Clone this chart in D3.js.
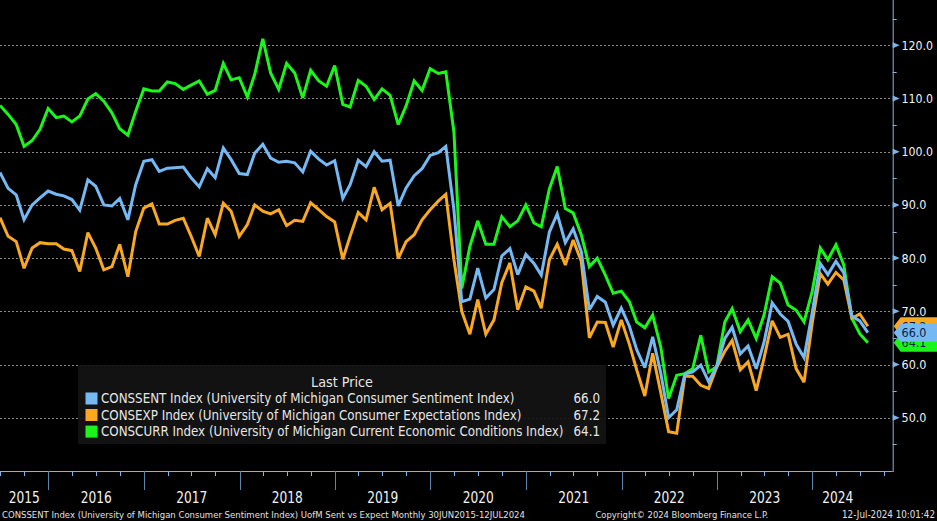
<!DOCTYPE html>
<html>
<head>
<meta charset="utf-8">
<script src="https://cdn.jsdelivr.net/npm/d3@7"></script>
<style>
  html, body { margin: 0; padding: 0; background: #000; }
  svg { display: block; }
  text { font-family: "DejaVu Sans Condensed", "DejaVu Sans", sans-serif; }
</style>
</head>
<body>
<div id="chart"></div>
<script>
// Monthly values, Jun 2015 .. Jul 2024 (Bloomberg dates them at month end)
const firstMonth = new Date(2015, 5, 30);

const consSent = [
  96.1, 93.1, 91.9, 87.2, 90.0, 91.3, 92.6,
  92.0, 91.7, 91.0, 89.0, 94.7, 93.5, 90.0, 89.8, 91.2, 87.2, 93.8, 98.2,
  98.5, 96.3, 96.9, 97.0, 97.1, 95.1, 93.4, 96.8, 95.1, 100.7, 98.5, 95.9,
  95.7, 99.7, 101.4, 98.8, 98.0, 98.2, 97.9, 96.2, 100.1, 98.6, 97.5, 98.3,
  91.2, 93.8, 98.4, 97.2, 100.0, 98.2, 98.4, 89.8, 93.2, 95.5, 96.8, 99.3,
  99.8, 101.0, 89.1, 71.8, 72.3, 78.1, 72.5, 74.1, 80.4, 81.8, 76.9, 80.7,
  79.0, 76.8, 84.9, 88.3, 82.9, 85.5, 81.2, 70.3, 72.8, 71.7, 67.4, 70.6,
  67.2, 62.8, 59.4, 65.2, 58.4, 50.0, 51.5, 58.2, 58.6, 59.9, 56.8, 59.7,
  64.9, 67.0, 62.0, 63.5, 59.2, 64.2, 71.6, 69.5, 68.1, 63.8, 61.3, 69.7,
  79.0, 76.9, 79.4, 77.2, 69.1, 68.2, 66.0
];

const consExp = [
  87.6, 84.1, 83.1, 78.1, 81.9, 82.9, 82.7,
  82.7, 81.7, 81.4, 77.5, 84.8, 81.9, 77.8, 78.4, 82.6, 76.5, 85.0, 89.4,
  90.2, 86.4, 86.4, 87.1, 87.5, 84.1, 80.3, 87.5, 84.4, 90.3, 88.8, 84.1,
  86.3, 90.0, 88.8, 88.3, 89.1, 86.1, 87.1, 86.9, 90.4, 89.1, 87.8, 86.8,
  79.8, 84.1, 88.6, 87.2, 93.3, 89.1, 90.3, 79.9, 83.1, 84.4, 87.2, 89.1,
  90.7, 92.0, 79.7, 70.0, 65.7, 72.2, 65.7, 68.4, 75.4, 79.1, 70.3, 74.6,
  73.8, 70.6, 79.7, 82.6, 78.7, 83.4, 79.4, 65.0, 68.0, 67.9, 63.3, 68.4,
  63.8, 59.0, 54.1, 62.1, 54.7, 47.4, 47.1, 57.8, 57.8, 56.1, 55.5, 59.5,
  62.5, 64.5, 59.0, 60.5, 55.1, 61.2, 68.2, 65.1, 65.7, 59.2, 56.7, 67.7,
  77.1, 75.1, 77.3, 75.9, 68.7, 69.5, 67.2
];

const consCurr = [
  108.7, 107.0, 105.1, 101.0, 102.1, 104.2, 108.1,
  106.4, 106.7, 105.6, 106.7, 109.9, 110.9, 109.5, 107.3, 104.3, 103.1, 107.6, 111.8,
  111.4, 111.4, 113.1, 112.8, 111.7, 112.5, 113.3, 110.8, 111.5, 116.6, 113.5, 113.9,
  110.3, 114.5, 121.2, 114.8, 111.7, 116.6, 114.8, 110.1, 115.3, 113.3, 112.3, 116.2,
  108.9, 108.4, 113.4, 112.3, 109.8, 111.8, 110.6, 105.1, 108.6, 113.3, 111.5, 115.6,
  114.7, 115.0, 103.7, 74.3, 82.2, 87.0, 82.6, 82.6, 87.8, 85.9, 87.0, 90.0,
  86.6, 85.9, 93.0, 97.2, 89.3, 88.5, 84.4, 78.4, 80.0, 76.8, 73.4, 73.8,
  71.8, 68.0, 66.9, 69.3, 63.3, 53.6, 58.0, 58.3, 59.2, 65.5, 58.6, 59.6,
  68.0, 70.5, 66.2, 68.4, 64.9, 69.3, 76.5, 75.3, 71.2, 70.2, 68.0, 73.7,
  81.9, 79.7, 82.5, 78.7, 68.7, 65.8, 64.1
];

const seriesNames = [
  "CONSSENT Index (University of Michigan Consumer Sentiment Index)",
  "CONSEXP Index (University of Michigan Consumer Expectations Index)",
  "CONSCURR Index (University of Michigan Current Economic Conditions Index)"
];
const seriesColors = ["#74b9f3", "#f8a823", "#1cf51c"];

const yTicks = [50, 60, 70, 80, 90, 100, 110, 120];
const yMinorTicks = [45, 55, 65, 75, 85, 95, 105, 115, 125];

const footerLeft = "CONSSENT Index (University of Michigan Consumer Sentiment Index) UofM Sent vs Expect  Monthly 30JUN2015-12JUL2024";
const footerMid = "Copyright\u00A9 2024 Bloomberg Finance L.P.";
const footerRight = "12-Jul-2024 10:01:42";

// layout
const W = 937, H = 521;
const plotRight = 892.7, plotBottom = 471;
const dataEnd = new Date(2024, 6, 12);
const axisColor = "#7fb4e8";

const months = consSent.map((d, i) => new Date(2015, 6 + i, 0));
const series = [consSent, consExp, consCurr].map((values, i) => ({
  name: seriesNames[i], color: seriesColors[i], values: values, last: values[values.length - 1]
}));

const x = d3.scaleTime()
  .domain([firstMonth, new Date(2024, 10, 3)])
  .range([0, plotRight]);

const y = d3.scaleLinear()
  .domain([40, 128.5])
  .range([plotBottom, 0]);

const svg = d3.select("#chart")
  .append("svg")
  .attr("width", W)
  .attr("height", H);

svg.append("rect").attr("width", W).attr("height", H).attr("fill", "#000");

// shrink or grow a text so it takes the width seen in the picture
function fitWidth(sel, width) {
  const w = sel.node().getComputedTextLength();
  const fs = parseFloat(sel.attr("font-size"));
  sel.attr("font-size", (fs * width / w).toFixed(2));
}

// grid
svg.append("g")
  .selectAll("line")
  .data(yTicks)
  .join("line")
  .attr("x1", 0)
  .attr("x2", plotRight - 2)
  .attr("y1", d => Math.round(y(d)) + 0.5)
  .attr("y2", d => Math.round(y(d)) + 0.5)
  .attr("stroke", "#8a8a8a")
  .attr("stroke-width", 1)
  .attr("stroke-dasharray", "2,2");

// lines
svg.append("defs").append("clipPath").attr("id", "plot")
  .append("rect").attr("width", plotRight).attr("height", plotBottom);

const line = d3.line()
  .x((d, i) => x(months[i]))
  .y(d => y(d));

svg.append("g")
  .attr("clip-path", "url(#plot)")
  .selectAll("path")
  .data([series[2], series[1], series[0]])
  .join("path")
  .attr("d", d => line(d.values))
  .attr("fill", "none")
  .attr("stroke", d => d.color)
  .attr("stroke-width", 3)
  .attr("stroke-linejoin", "miter")
  .attr("stroke-miterlimit", 3);

// bottom axis
const xAxis = svg.append("g");
xAxis.append("line")
  .attr("x1", 0).attr("x2", plotRight)
  .attr("y1", plotBottom + 0.5).attr("y2", plotBottom + 0.5)
  .attr("stroke", axisColor);

const quarters = d3.timeMonth.every(3).range(firstMonth, x.domain()[1]);
xAxis.selectAll(".qt")
  .data(quarters.filter(d => d.getMonth() !== 0))
  .join("line")
  .attr("class", "qt")
  .attr("x1", d => Math.round(x(d)) + 0.5)
  .attr("x2", d => Math.round(x(d)) + 0.5)
  .attr("y1", plotBottom)
  .attr("y2", plotBottom + 5)
  .attr("stroke", axisColor);

const yearStarts = d3.timeYear.range(firstMonth, x.domain()[1]);
xAxis.selectAll(".sep")
  .data(yearStarts)
  .join("line")
  .attr("class", "sep")
  .attr("x1", d => Math.round(x(d)) + 0.5)
  .attr("x2", d => Math.round(x(d)) + 0.5)
  .attr("y1", plotBottom)
  .attr("y2", plotBottom + 19)
  .attr("stroke", "#5d84ad");

const years = d3.range(2015, 2025);
xAxis.selectAll(".yr")
  .data(years)
  .join("text")
  .attr("class", "yr")
  .attr("x", d => {
    const a = Math.max(x(new Date(d, 0, 1)), 0);
    const b = Math.min(x(new Date(d + 1, 0, 1)), x(dataEnd));
    return (a + b) / 2;
  })
  .attr("y", 503)
  .attr("text-anchor", "middle")
  .attr("font-size", 16)
  .attr("textLength", 31)
  .attr("lengthAdjust", "spacingAndGlyphs")
  .attr("fill", "#f2f2f2")
  .text(d => d);

// right axis
const yAxis = svg.append("g");
yAxis.append("line")
  .attr("x1", plotRight + 0.5).attr("x2", plotRight + 0.5)
  .attr("y1", 0).attr("y2", plotBottom + 1)
  .attr("stroke", axisColor);

yAxis.selectAll(".minor")
  .data(yMinorTicks)
  .join("line")
  .attr("class", "minor")
  .attr("x1", plotRight).attr("x2", plotRight + 4)
  .attr("y1", d => Math.round(y(d)) + 0.5)
  .attr("y2", d => Math.round(y(d)) + 0.5)
  .attr("stroke", axisColor);

yAxis.selectAll(".tri")
  .data(yTicks)
  .join("path")
  .attr("class", "tri")
  .attr("d", d => `M${plotRight},${y(d) - 3}L${plotRight + 7},${y(d)}L${plotRight},${y(d) + 3}Z`)
  .attr("fill", axisColor);

yAxis.selectAll(".lbl")
  .data(yTicks)
  .join("text")
  .attr("class", "lbl")
  .attr("x", 901.5)
  .attr("y", d => y(d))
  .attr("dy", "0.36em")
  .attr("font-size", 13)
  .attr("fill", "#f2f2f2")
  .text(d => d.toFixed(1))
  .each(function () { fitWidth(d3.select(this), this.textContent.length === 5 ? 31.5 : 25); });

// last value tags: orange, green, then blue on top
const tags = svg.append("g")
  .selectAll("g")
  .data([series[1], series[2], series[0]])
  .join("g");

tags.append("path")
  .attr("d", d => {
    const c = y(d.last), x0 = plotRight + 1;
    return `M${x0},${c}L${x0 + 7},${c - 9}L${W},${c - 9}L${W},${c + 9}L${x0 + 7},${c + 9}Z`;
  })
  .attr("fill", d => d.color);

tags.append("text")
  .attr("x", 901.5)
  .attr("y", d => y(d.last))
  .attr("dy", "0.36em")
  .attr("font-size", 13)
  .attr("fill", "#0d2142")
  .text(d => d.last.toFixed(1))
  .each(function () { fitWidth(d3.select(this), 25); });

// legend
const legend = svg.append("g");
legend.append("rect")
  .attr("x", 78).attr("y", 365)
  .attr("width", 528).attr("height", 79)
  .attr("fill", "#131313")
  .attr("opacity", 0.92);

legend.append("text")
  .attr("x", 342).attr("y", 387)
  .attr("text-anchor", "middle")
  .attr("font-size", 14)
  .attr("fill", "#e6e6e6")
  .text("Last Price")
  .call(s => fitWidth(s, 62));

const rowY = [398.5, 415, 431.6];
const rows = legend.selectAll(".row")
  .data(series)
  .join("g")
  .attr("class", "row")
  .attr("transform", (d, i) => `translate(0,${rowY[i]})`);

rows.append("rect")
  .attr("x", 85.5).attr("y", -6)
  .attr("width", 12).attr("height", 12)
  .attr("fill", d => d.color);

const rowText = rows.append("text")
  .attr("x", 101)
  .attr("dy", "0.36em")
  .attr("font-size", 14)
  .attr("fill", "#e6e6e6")
  .text(d => d.name);

// fit the longest row, use the same size for the others
const longest = rowText.filter((d, i) => i === 2);
fitWidth(longest, 463);
rowText.attr("font-size", longest.attr("font-size"));

rows.append("text")
  .attr("x", 600)
  .attr("dy", "0.36em")
  .attr("text-anchor", "end")
  .attr("font-size", longest.attr("font-size"))
  .attr("fill", "#e6e6e6")
  .text(d => d.last.toFixed(1));

// footer
const foot = svg.append("g").attr("fill", "#e0e0e0");
foot.append("text").attr("x", 2).attr("y", 518).attr("font-size", 10)
  .text(footerLeft).call(s => fitWidth(s, 523));
foot.append("text").attr("x", 595.5).attr("y", 518).attr("font-size", 10)
  .text(footerMid).call(s => fitWidth(s, 173));
foot.append("text").attr("x", 842).attr("y", 518).attr("font-size", 10)
  .text(footerRight).call(s => fitWidth(s, 93));
</script>
</body>
</html>
